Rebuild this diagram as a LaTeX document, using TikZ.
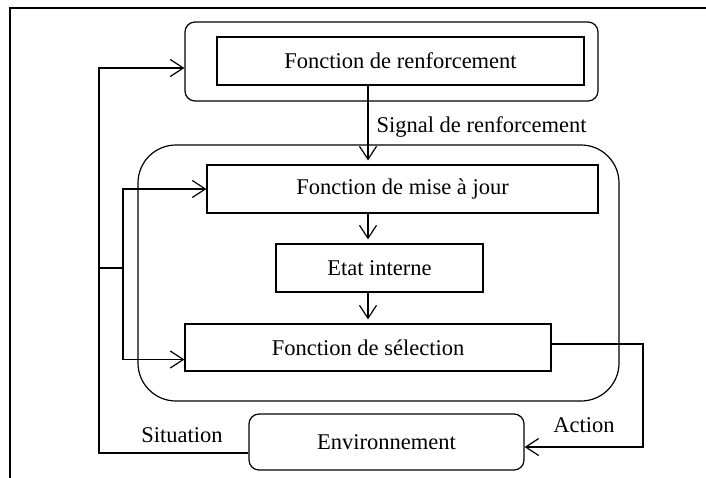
\documentclass[tikz,border=0pt]{standalone}
\usepackage{fontspec}
\setmainfont{Liberation Serif}
\usetikzlibrary{arrows.meta,calc}
\begin{document}
\begin{tikzpicture}[x=1pt,y=-1pt,
  line width=1.2pt,
  font=\fontsize{22.5}{27}\selectfont,
  box/.style={draw,rectangle,inner sep=0pt,align=center},
  rbox/.style={box,rounded corners=10pt},
  arr/.style={-{Straight Barb[length=13pt,width=17pt,line width=1.2pt]}},
  lbl/.style={inner sep=0pt}]
\useasboundingbox (0,0) rectangle (706,477);
\begin{scope}
\clip (0,0) rectangle (706,477);
\draw[line width=1.6pt] (10,8) rectangle (730,500);
\end{scope}
% boxes
\node[rbox,minimum width=413pt,minimum height=79pt] (topbox) at (391.5,61.5) {};
\node[box,minimum width=367pt,minimum height=48pt] (renf) at (400.5,61) {Fonction de renforcement};
\node[box,rounded corners=38pt,minimum width=481pt,minimum height=256pt] (big) at (378.5,273) {};
\node[box,minimum width=391pt,minimum height=48pt] (maj) at (402.5,189) {Fonction de mise à jour};
\node[box,minimum width=207pt,minimum height=48pt] (etat) at (379.5,268) {Etat interne};
\node[box,minimum width=366pt,minimum height=47pt] (sel) at (368,347.5) {Fonction de sélection};
\node[rbox,minimum width=275pt,minimum height=56pt] (env) at (386.5,442) {Environnement};
% coordinates
\coordinate (sx) at (368,0);
\coordinate (tt) at (99,68);
\coordinate (tb) at (99,453);
\coordinate (br) at (99,268);
\coordinate (bx) at (123,268);
\coordinate (ar) at (643,344);
\coordinate (ae) at (643,447);
% vertical chain
\draw[arr,shorten >=4pt] (renf.south -| sx) -- (maj.north -| sx);
\draw[arr,shorten >=4pt] (maj.south -| sx) -- (etat.north -| sx);
\draw[arr,shorten >=4pt] (etat.south -| sx) -- (sel.north -| sx);
\node[lbl,anchor=west] (sig) at (376,127) {Signal de renforcement};
% situation loop
\draw[arr] (env.west |- tb) -- (tb) -- (tt) -- (topbox.west |- tt);
\draw (br) -- (bx);
\draw[arr] (bx) |- (maj.west);
\draw[arr] (bx) |- ($(sel.west)+(0,12)$);
\node[lbl] (sit) at (182,435) {Situation};
% action
\draw[arr] (sel.east |- ar) -- (ar) -- (ae) -- (env.east |- ae);
\node[lbl] (act) at (584,425) {Action};
\end{tikzpicture}
\end{document}
